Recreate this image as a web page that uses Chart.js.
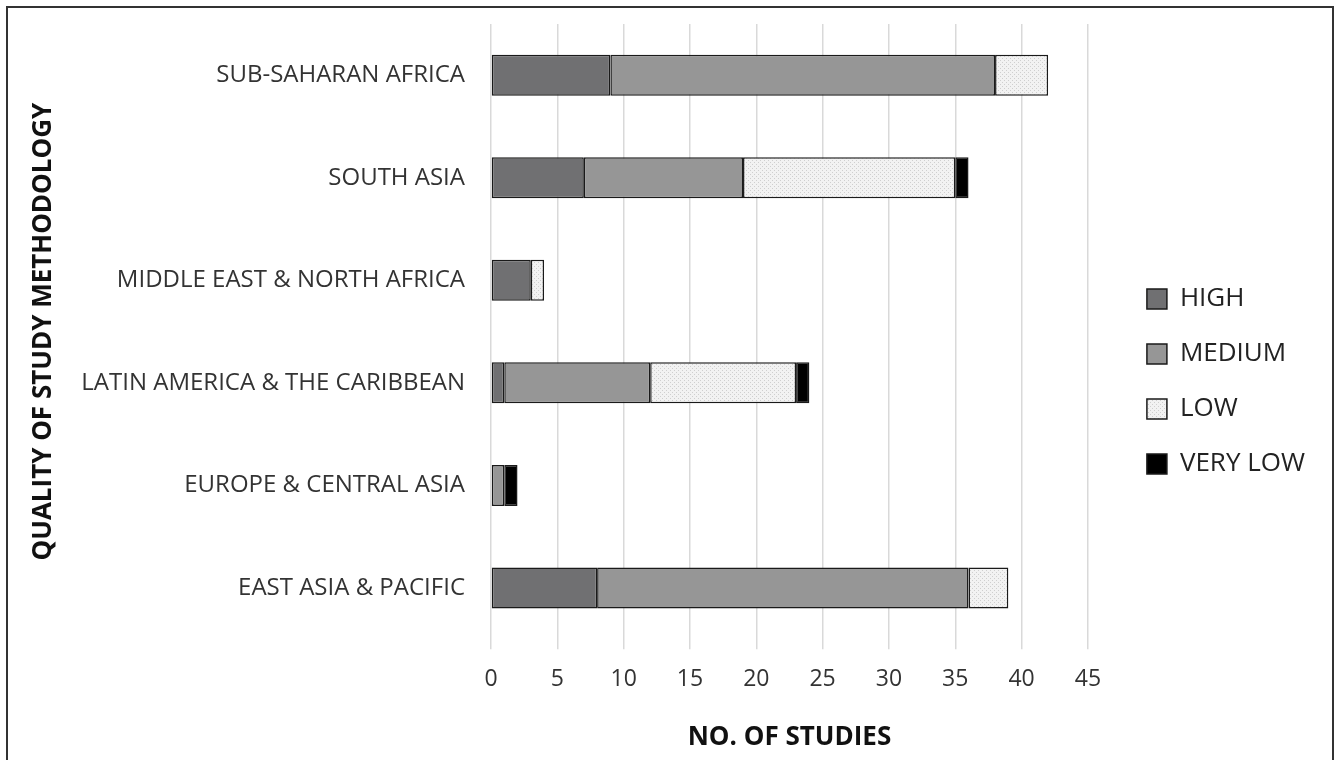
<!DOCTYPE html>
<html>
<head>
<meta charset="utf-8">
<script src="https://cdn.jsdelivr.net/npm/chart.js@4.4.0/dist/chart.umd.min.js"></script>
<style>
html,body{margin:0;padding:0;background:#fff;overflow:hidden;}
#wrap{position:absolute;left:0;top:0;width:1338px;height:760px;}
#frame{position:absolute;left:6px;top:6px;width:1328px;height:800px;border:2px solid #333;box-sizing:border-box;pointer-events:none;}
</style>
</head>
<body>
<div id="wrap"><canvas id="myChart" width="1338" height="760"></canvas></div>
<div id="frame"></div>
<script>
var regions=["SUB-SAHARAN AFRICA","SOUTH ASIA","MIDDLE EAST & NORTH AFRICA","LATIN AMERICA & THE CARIBBEAN","EUROPE & CENTRAL ASIA","EAST ASIA & PACIFIC"];
var high=[9,7,3,1,0,8];
var medium=[29,12,0,11,1,28];
var low=[4,16,1,11,0,3];
var veryLow=[0,1,0,1,1,0];
var xTicks=[0,5,10,15,20,25,30,35,40,45];

var fontName="'Open Sans', sans-serif";

// dotted light fill for LOW
var pc=document.createElement("canvas");
pc.width=4;pc.height=4;
var px=pc.getContext("2d");
px.fillStyle="#f2f2f2";px.fillRect(0,0,4,4);
px.fillStyle="#cfcfcf";px.fillRect(0,0,1,1);px.fillRect(2,2,1,1);
var lowFill=px.createPattern(pc,"repeat");

// push legend a bit away from the plot
var legendGap={
    id:'legendGap',
    afterLayout:function(chart){
        chart.legend.left+=30;
        chart.legend.right+=30;
        chart.legend.top-=7;
        chart.legend.bottom-=7;
    }
};

var ctx=document.getElementById("myChart");
var myChart=new Chart(ctx,{
    type:'bar',
    data:{
        labels:regions,
        datasets:[
            {label:"HIGH",data:high,backgroundColor:"#707072"},
            {label:"MEDIUM",data:medium,backgroundColor:"#969696"},
            {label:"LOW",data:low,backgroundColor:lowFill},
            {label:"VERY LOW",data:veryLow,backgroundColor:"#000000"}
        ]
    },
    plugins:[legendGap],
    options:{
        responsive:false,
        animation:false,
        indexAxis:'y',
        layout:{padding:{left:28,right:53,top:24,bottom:7}},
        datasets:{bar:{borderColor:"#1a1a1a",borderWidth:1.5,borderSkipped:false,barPercentage:0.8,categoryPercentage:0.5}},
        plugins:{
            tooltip:{enabled:false},
            legend:{
                position:'right',
                align:'center',
                labels:{
                    font:{family:fontName,size:26},
                    color:"#222",
                    boxWidth:20,
                    boxHeight:20,
                    padding:29
                }
            }
        },
        scales:{
            x:{
                stacked:true,
                min:0,max:45,
                afterBuildTicks:function(s){s.ticks=xTicks.map(function(v){return {value:v};});},
                grid:{color:"#d9d9d9",lineWidth:1.5,drawTicks:true,tickLength:10},
                border:{display:false},
                ticks:{font:{family:fontName,size:23},color:"#333",padding:16},
                title:{display:true,text:"NO. OF STUDIES",font:{family:fontName,size:26,weight:'bold'},color:"#111",padding:{top:13,bottom:0}}
            },
            y:{
                stacked:true,
                afterFit:function(s){s.width=463;s.paddingTop=0;s.paddingBottom=0;},
                grid:{display:false},
                border:{display:false},
                ticks:{font:{family:fontName,size:24},color:"#333",padding:18},
                title:{display:true,text:"QUALITY OF STUDY METHODOLOGY",font:{family:fontName,size:26,weight:'bold'},color:"#111",padding:{top:0,bottom:0}}
            }
        }
    }
});
</script>
</body>
</html>
